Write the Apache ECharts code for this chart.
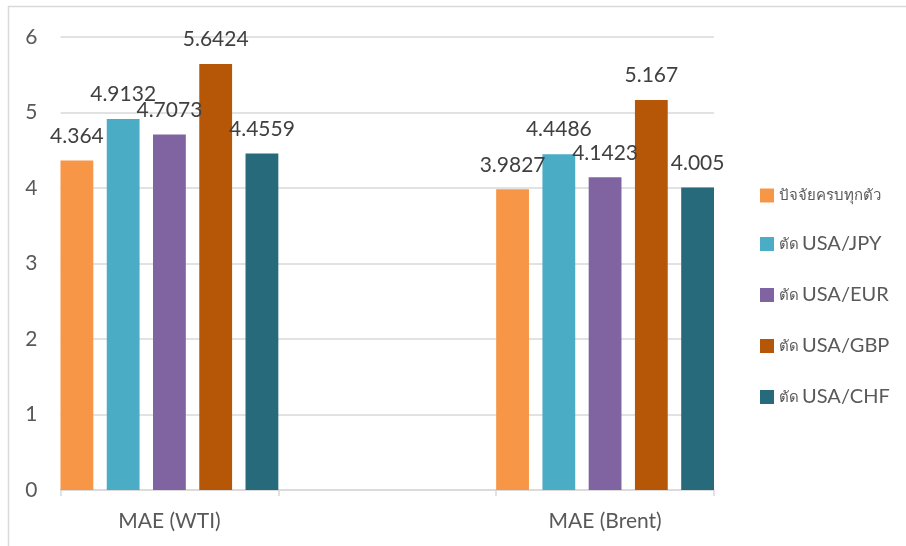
<!DOCTYPE html>
<html>
<head>
<meta charset="utf-8">
<script src="https://cdn.jsdelivr.net/npm/echarts@6/dist/echarts.min.js"></script>
<style>
  html, body { margin: 0; padding: 0; background: #fff; }
  #chart { width: 906px; height: 546px; }
</style>
</head>
<body>
<div id="chart"></div>
<script>
// Categories (the middle slot is an empty spacer between the two groups)
const categories = ['MAE (WTI)', '', 'MAE (Brent)'];

// Series names (Thai prefix + currency pair)
const seriesNames = ['ปัจจัยครบทุกตัว', 'ตัด USA/JPY', 'ตัด USA/EUR', 'ตัด USA/GBP', 'ตัด USA/CHF'];

// Values per series, aligned with categories
const allFactors = [4.364, null, 3.9827];
const dropJPY    = [4.9132, null, 4.4486];
const dropEUR    = [4.7073, null, 4.1423];
const dropGBP    = [5.6424, null, 5.167];
const dropCHF    = [4.4559, null, 4.005];

// Y-axis ticks
const yTicks = [0, 1, 2, 3, 4, 5, 6];

const seriesValues = [allFactors, dropJPY, dropEUR, dropGBP, dropCHF];
const colors = ['#F79646', '#4BACC6', '#8064A2', '#B65708', '#276A7C'];

const FONT = 'Lato, "Open Sans", sans-serif';

const chart = echarts.init(document.getElementById('chart'), null, { renderer: 'canvas' });

chart.setOption({
  animation: false,
  backgroundColor: '#ffffff',
  color: colors,
  graphic: [{
    type: 'rect',
    shape: { x: 8.5, y: 6.5, width: 1200, height: 1200 },
    style: { fill: 'none', stroke: '#d9d9d9', lineWidth: 1.5 },
    silent: true
  }],
  grid: { left: 60.5, right: 192, top: 37, bottom: 56, containLabel: false },
  legend: {
    orient: 'vertical',
    left: 755,
    top: 183,
    itemWidth: 14,
    itemHeight: 14,
    itemGap: 31,
    icon: 'rect',
    data: seriesNames,
    formatter: function (name) {
      const i = name.indexOf(' ');
      if (i < 0) return '{th|' + name + '}';
      return '{th|' + name.slice(0, i) + '} {en|' + name.slice(i + 1) + '}';
    },
    textStyle: {
      color: '#595959',
      fontFamily: FONT,
      rich: {
        th: { fontSize: 15, color: '#595959', fontFamily: FONT },
        en: { fontSize: 20, color: '#595959', fontFamily: FONT }
      }
    }
  },
  xAxis: {
    type: 'category',
    data: categories,
    boundaryGap: true,
    axisLine: { lineStyle: { color: '#d9d9d9', width: 1.5 } },
    axisTick: { show: true, interval: 0, length: 6, lineStyle: { color: '#d9d9d9', width: 1.5 } },
    axisLabel: { color: '#595959', fontSize: 21, fontFamily: FONT, margin: 21, interval: 0 }
  },
  yAxis: {
    type: 'value',
    min: yTicks[0],
    max: yTicks[yTicks.length - 1],
    interval: 1,
    axisLine: { show: false },
    axisTick: { show: false },
    splitLine: { lineStyle: { color: '#d9d9d9', width: 1.5 } },
    axisLabel: { color: '#595959', fontSize: 21, fontFamily: FONT, margin: 23 }
  },
  series: seriesNames.map((name, i) => ({
    name: name,
    type: 'bar',
    data: seriesValues[i],
    barCategoryGap: '0%',
    barGap: '41%',
    itemStyle: { color: colors[i] },
    label: {
      show: true,
      position: 'top',
      distance: 14,
      color: '#404040',
      fontSize: 21,
      fontFamily: FONT,
      formatter: p => (p.value == null ? '' : String(p.value))
    }
  }))
});
</script>
</body>
</html>
